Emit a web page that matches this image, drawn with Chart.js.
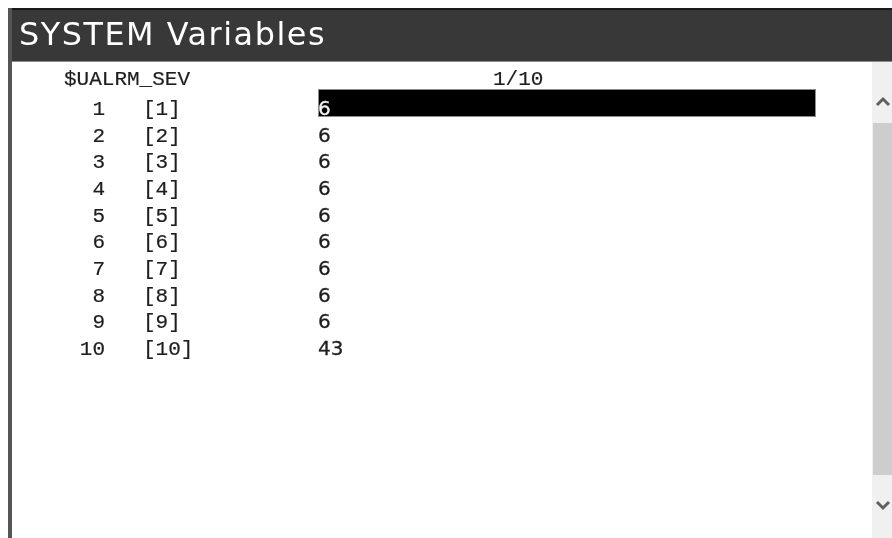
<!DOCTYPE html>
<html>
<head>
<meta charset="utf-8">
<script src="https://cdn.jsdelivr.net/npm/chart.js@4/dist/chart.umd.min.js"></script>
<style>
  html, body { margin: 0; padding: 0; background: #ffffff; }
  #wrap { position: relative; width: 892px; height: 538px; }
</style>
</head>
<body>
<div id="wrap"><canvas id="c" width="892" height="538"></canvas></div>
<script>
// ---- data ----
const TITLE = 'SYSTEM Variables';
const VAR_NAME = '$UALRM_SEV';
const PAGE_LABEL = '1/10';
const ROW_INDEX = [1, 2, 3, 4, 5, 6, 7, 8, 9, 10];
const ROW_LABELS = ['[1]', '[2]', '[3]', '[4]', '[5]', '[6]', '[7]', '[8]', '[9]', '[10]'];
const VALUES = [6, 6, 6, 6, 6, 6, 6, 6, 6, 43];
const CURSOR_ROW = 1;

// ---- layout / style ----
const MONO = '21px "Liberation Mono", "Courier New", monospace';
const SANS = '20px "DejaVu Sans", Verdana, sans-serif';
const TITLE_FONT = '32px "DejaVu Sans", Verdana, sans-serif';
const TITLE_BOX = { x: 19, baseline: 45, width: 307 };
const TEXT = '#1e1e1e';
const COL = { idxRight: 105, sub: 143, val: 318, header: 64, page: 493 };
const CURSOR = { left: 318, right: 816, up: 26, down: 2 };
const HEADER_POS = -0.125;

function heavyText(ctx, s, x, y) {
  ctx.fillText(s, x, y);
  ctx.strokeText(s, x, y);
}

const panelPlugin = {
  id: 'panel',
  beforeDraw(chart) {
    const ctx = chart.ctx;
    const W = chart.width, H = chart.height;
    ctx.save();
    ctx.fillStyle = '#ffffff';
    ctx.fillRect(0, 0, W, H);
    // title bar
    ctx.fillStyle = '#383838';
    ctx.fillRect(8, 8, W - 8, 54);
    ctx.fillStyle = '#1a1a1a';
    ctx.fillRect(8, 8, W - 8, 2);
    ctx.fillStyle = '#8a8a8a';
    ctx.fillRect(12, 61, W - 12, 1);
    // title text
    ctx.font = TITLE_FONT;
    ctx.fillStyle = '#ffffff';
    ctx.textAlign = 'left';
    ctx.textBaseline = 'alphabetic';
    const base = ctx.measureText(TITLE).width;
    if ('letterSpacing' in ctx) {
      ctx.letterSpacing = ((TITLE_BOX.width - base) / (TITLE.length - 1)) + 'px';
    }
    const tw = ctx.measureText(TITLE).width;
    ctx.translate(TITLE_BOX.x, TITLE_BOX.baseline);
    ctx.scale(TITLE_BOX.width / tw, 1);
    ctx.fillText(TITLE, 0, 0);
    ctx.setTransform(1, 0, 0, 1, 0, 0);
    if ('letterSpacing' in ctx) ctx.letterSpacing = '0px';
    // left border
    ctx.fillStyle = '#555555';
    ctx.fillRect(8, 8, 4, H - 8);
    // scrollbar
    ctx.fillStyle = '#f0f0f0';
    ctx.fillRect(872, 62, 20, H - 62);
    ctx.fillStyle = '#cdcdcd';
    ctx.fillRect(873, 123, 19, 352);
    ctx.strokeStyle = '#606060';
    ctx.lineWidth = 3;
    ctx.beginPath();
    ctx.moveTo(877, 105); ctx.lineTo(883, 99); ctx.lineTo(889, 105);
    ctx.stroke();
    ctx.beginPath();
    ctx.moveTo(877, 502); ctx.lineTo(883, 508); ctx.lineTo(889, 502);
    ctx.stroke();
    ctx.restore();
  },
  afterDatasetsDraw(chart) {
    const ctx = chart.ctx;
    const yScale = chart.scales.y;
    const meta = chart.getDatasetMeta(0);
    ctx.save();
    ctx.textBaseline = 'alphabetic';
    ctx.lineWidth = 0.2;
    // header row
    const hy = yScale.getPixelForValue(HEADER_POS);
    ctx.font = MONO;
    ctx.fillStyle = TEXT;
    ctx.strokeStyle = TEXT;
    ctx.textAlign = 'left';
    heavyText(ctx, VAR_NAME, COL.header, hy);
    heavyText(ctx, PAGE_LABEL, COL.page, hy);
    meta.data.forEach((el, i) => {
      const y = el.y;
      const isCursor = ROW_INDEX[i] === CURSOR_ROW;
      if (isCursor) {
        ctx.fillStyle = '#000000';
        ctx.fillRect(CURSOR.left, y - CURSOR.up, CURSOR.right - CURSOR.left, CURSOR.up + CURSOR.down);
        ctx.save();
        ctx.strokeStyle = '#8c8c8c';
        ctx.lineWidth = 1;
        ctx.strokeRect(CURSOR.left + 0.5, y - CURSOR.up + 0.5, CURSOR.right - CURSOR.left - 1, CURSOR.up + CURSOR.down - 1);
        ctx.restore();
      }
      ctx.font = MONO;
      ctx.fillStyle = TEXT;
      ctx.strokeStyle = TEXT;
      ctx.lineWidth = 0.2;
      ctx.textAlign = 'right';
      heavyText(ctx, String(ROW_INDEX[i]), COL.idxRight, y);
      ctx.textAlign = 'left';
      heavyText(ctx, ROW_LABELS[i], COL.sub, y);
      ctx.font = SANS;
      ctx.fillStyle = isCursor ? '#f2f2f2' : TEXT;
      ctx.strokeStyle = ctx.fillStyle;
      ctx.lineWidth = 0.3;
      heavyText(ctx, String(VALUES[i]), COL.val, y);
    });
    ctx.restore();
  }
};

new Chart(document.getElementById('c'), {
  type: 'scatter',
  data: {
    datasets: [{
      label: VAR_NAME,
      data: ROW_INDEX.map((r, i) => ({ x: VALUES[i], y: r })),
      pointRadius: 0,
      pointHoverRadius: 0,
      showLine: false
    }]
  },
  options: {
    responsive: false,
    animation: false,
    devicePixelRatio: 1,
    layout: { padding: { top: 62, left: 12, right: 20, bottom: 0 } },
    events: [],
    plugins: {
      legend: { display: false },
      tooltip: { enabled: false },
      title: { display: false }
    },
    scales: {
      x: { type: 'linear', display: false, min: 0, max: 50 },
      y: { type: 'linear', display: false, reverse: true, min: -0.987, max: 16.86 }
    }
  },
  plugins: [panelPlugin]
});
</script>
</body>
</html>
